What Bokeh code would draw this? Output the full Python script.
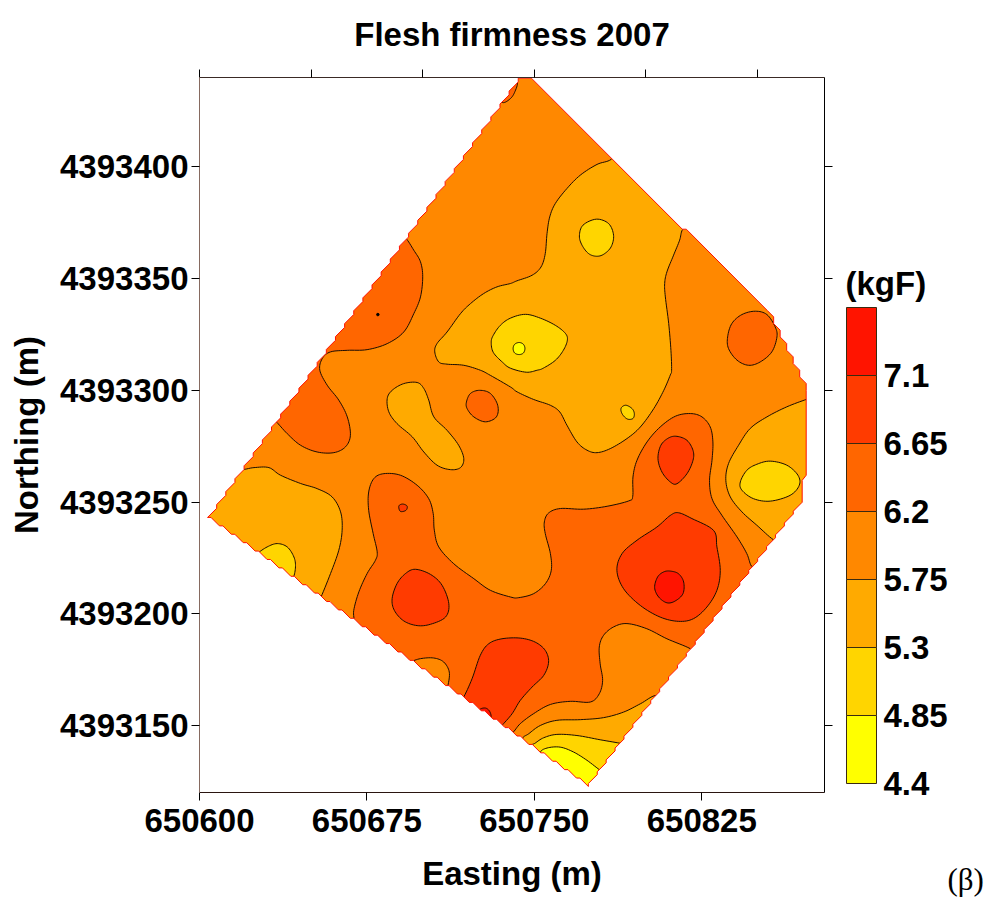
import numpy as np
from bokeh.plotting import figure
from bokeh.layouts import row
from bokeh.core.properties import value
from bokeh.models import LinearAxis, FixedTicker, NumeralTickFormatter, Title
from bokeh.embed import file_html
from bokeh.resources import INLINE

E_BASE = 650000
N_BASE = 4393000

FONT = "Liberation Sans"
TITLE = "Flesh firmness 2007"
X_LABEL = "Easting (m)"
Y_LABEL = "Northing (m)"
UNIT = "(kgF)"
PANEL = "(\u03b2)"
X_TICKS = [650600, 650675, 650750, 650825]
X_TOP_TICKS = [650600, 650650, 650700, 650750, 650800, 650850]
Y_TICKS = [4393150, 4393200, 4393250, 4393300, 4393350, 4393400]

LEVELS = [4.4, 4.85, 5.3, 5.75, 6.2, 6.65, 7.1, 7.55]
LEVEL_LABELS = ["4.4", "4.85", "5.3", "5.75", "6.2", "6.65", "7.1"]
YEL, GLD, AMB, ORG, DKO, RED, HOT = "#FFFF00", "#FFD500", "#FFAA00", "#FF8800", "#FF6600", "#FF3B00", "#FF1400"
BAND_COLORS = [YEL, GLD, AMB, ORG, DKO, RED, HOT]

# field boundary (easting-650000, northing-4393000) and stair steps of the blanking grid per edge
BOUND_E = [603.6, 742.8, 748.7, 816.3, 818.1, 854.3, 871.8, 871.8, 870.0, 870.0, 774.2]
BOUND_N = [243.1, 439.7, 439.7, 372.1, 372.1, 335.8, 300.0, 262.0, 259.7, 249.9, 122.7]
BOUND_STEPS = [34, 1, 1, 1, 1, 6, 1, 1, 1, 24, 32]

A1_E = [784.5,778.1,770.6,764.6,759.4,756.9,755.7,754.9,753.0,749.0,742.2,739.3,733.3,727.3,721.4,716.9,710.9,706.4,705.4,707.2,710.9,718.4,725.8,730.3,739.3,742.3,749.7,757.2,761.4,764.6,769.1,773.6,778.1,784.0,791.5,797.5,803.5,808.0,810.9,811.5,811.2,810.2,808.7,808.4,809.4,812.4,815.1,816.4,820.6,790.0]
A1_N = [403.4,401.1,396.3,390.3,383.6,377.6,370.2,361.2,355.2,351.5,349.0,347.8,346.3,343.3,338.8,334.3,326.1,320.9,317.2,312.7,311.7,311.2,309.0,306.7,301.5,299.3,295.9,293.3,290.3,284.4,276.9,273.2,272.1,273.9,278.4,283.6,291.8,300.0,306.8,309.0,317.9,329.9,341.8,347.8,353.0,360.5,367.2,372.0,377.6,409.7]
A2_E = [684.1,686.3,691.5,697.5,700.5,702.7,705.0,710.9,716.1,718.4,716.9,712.4,706.4,700.5,695.3,688.5,684.8]
A2_N = [296.3,300.0,303.0,303.5,300.8,295.6,288.1,282.1,275.4,269.4,265.4,264.5,266.5,272.4,279.2,285.1,290.4]
A3_E = [618.4,624.4,631.1,636.3,645.3,652.7,659.4,663.2,663.9,662.4,658.7,653.9,652.0,625.9,600.5,614.7]
A3_N = [264.5,265.4,265.4,262.0,258.3,256.0,252.3,245.6,237.4,228.4,218.0,206.3,203.8,221.0,242.6,266.5]
A4_E = [871.8,863.1,854.2,846.7,841.5,837.0,835.8,837.8,843.0,849.7,856.9,860.2,875.8,875.8]
A4_N = [295.9,292.6,288.1,282.9,275.4,267.2,259.7,252.3,245.6,239.6,233.3,232.9,259.7,297.1]
A5_E = [804.9,797.5,790.0,781.0,770.6,760.1,752.7,747.5,744.8,747.5,773.6,810.9]
A5_N = [163.5,159.7,156.0,153.5,152.6,152.3,150.0,146.3,144.1,139.6,119.5,159.7]
G1_E = [777.8,783.3,785.5,784.4,781.1,777.8,774.3,771.4,770.2,771.8]
G1_N = [376.6,374.6,369.4,364.2,360.9,360.0,361.2,364.9,369.1,373.9]
G2_E = [739.3,734.8,731.6,730.7,731.6,735.7,739.3,746.4,751.3,754.0,759.4,763.0,764.8,763.9,759.4,752.7,746.0]
G2_N = [332.3,329.1,324.6,321.5,317.0,312.6,309.9,308.1,309.0,309.9,313.4,317.9,322.4,325.5,329.1,332.3,334.0]
G3_E = [789.3,791.2,793.8,794.8,794.2,791.8,789.7,788.8]
G3_N = [292.6,293.3,291.8,289.6,287.4,287.1,288.9,291.1]
G4_E = [625.9,630.3,634.8,639.3,642.3,643.0,642.0,639.3,624.4]
G4_N = [226.9,229.9,231.4,229.9,225.4,221.0,216.2,213.5,224.7]
G5_E = [855.7,863.1,868.1,868.7,864.6,855.7,848.2,843.0,842.3,845.2,849.7]
G5_N = [268.3,266.5,262.0,257.5,253.0,250.4,251.5,255.3,259.0,264.2,266.9]
G6_E = [789.6,779.5,769.1,760.1,754.2,750.4,748.5,751.2,773.6,795.2]
G6_N = [141.8,143.6,145.5,146.0,144.5,142.1,140.6,135.9,119.5,140.3]
Y1_E = [743.2,745.1,745.8,745.1,743.2,741.2,740.5,741.2]
Y1_N = [321.4,320.6,318.7,316.7,316.0,316.7,318.7,320.6]
Y2_E = [780.0,773.6,767.6,761.6,755.7,752.7,754.9,773.6,784.8]
Y2_N = [129.6,134.4,138.1,140.3,139.9,137.8,132.9,119.5,126.9]
D1_E = [669.1,669.1,671.4,675.1,678.8,679.6,677.8,675.8,675.8,678.1,682.6,690.0,697.5,702.7,704.7,705.2,707.2,713.9,722.9,730.3,739.3,743.0,749.7,755.0,757.6,757.2,754.9,754.5,756.4,761.7,772.1,782.6,792.3,794.1,794.2,796.0,800.5,806.4,813.2,819.9,825.1,828.8,830.0,829.6,828.5,829.6,834.0,840.8,845.2,847.2,850.5,824.4,819.8,809.4,800.4,791.5,785.5,781.0,779.1,779.5,780.6,779.1,775.1,766.1,757.2,749.7,743.7,740.0,734.8,696.0,666.1]
D1_N = [196.3,201.5,209.8,218.0,223.9,227.7,235.9,246.3,254.5,260.5,262.7,262.0,257.5,251.5,244.8,237.4,229.9,222.4,215.7,210.5,207.5,207.2,209.0,213.5,219.5,226.9,235.9,241.1,245.1,247.1,246.8,248.1,250.5,252.6,261.2,268.7,276.9,283.6,288.4,289.6,288.1,283.6,276.9,268.7,259.7,251.5,244.1,234.4,226.9,221.4,218.0,180.6,184.4,188.8,193.3,195.6,194.1,190.3,185.1,177.6,170.2,164.2,160.5,160.8,159.4,155.3,150.8,146.6,144.8,171.7,194.1]
D2_E = [692.3,696.0,699.0,700.0,699.0,696.0,691.5,684.1,675.1,666.2,658.7,655.0,653.9,657.2,662.4,666.2,667.6,665.4,660.2,652.7,645.3,639.3,634.1,631.1,649.7,688.5]
D2_N = [368.2,362.7,357.5,350.8,341.8,334.3,326.1,320.9,318.2,317.9,317.2,314.2,309.0,302.3,295.6,288.1,279.9,274.7,272.1,272.4,275.4,280.6,286.2,288.1,313.5,370.2]
D3_E = [725.5,730.3,733.6,733.0,728.1,722.9,719.9,719.6,721.4]
D3_N = [300.0,298.6,293.3,288.1,285.9,288.1,291.8,294.8,298.6]
D4_E = [849.0,854.2,857.9,858.7,856.4,851.2,846.0,840.8,837.0,836.6,838.5,843.0]
D4_N = [335.4,333.9,328.4,323.9,317.2,312.7,311.2,313.5,318.7,323.9,329.9,333.9]
D5_E = [735.8,739.0,741.1,742.3,737.8,733.3]
D5_N = [428.8,430.3,433.2,438.1,440.3,432.1]
O1_E = [694.5,699.0,704.9,709.4,711.9,711.3,710.1,699.0,692.2]
O1_N = [178.4,179.9,180.2,178.4,173.9,167.9,165.0,170.9,176.9]
R1_E = [696.7,703.5,708.7,711.7,710.2,703.5,697.5,691.5,687.3,686.3,688.5,692.3]
R1_N = [219.9,217.6,212.7,204.5,198.5,195.3,194.7,196.8,201.5,206.8,213.5,218.0]
R2_E = [813.9,818.4,821.1,821.1,818.4,813.9,810.9,807.2,805.4,806.7,810.2]
R2_N = [279.4,277.6,273.1,268.7,262.7,258.2,259.0,263.4,269.4,275.4,278.7]
R3_E = [814.6,820.6,830.3,831.8,833.3,831.8,827.3,821.3,814.6,806.4,797.5,790.0,787.0,789.3,796.0,804.9,810.9]
R3_N = [245.2,242.6,237.3,229.9,219.4,210.5,203.0,197.8,196.6,198.5,203.7,211.2,219.4,226.9,232.9,238.8,244.0]
R4_E = [718.1,722.1,725.8,729.6,735.5,743.7,750.4,754.9,756.4,754.2,749.0,743.7,740.0,735.1,731.8,715.4]
R4_N = [162.3,170.9,181.4,186.6,188.8,189.1,187.3,183.6,178.4,172.4,167.2,161.2,155.2,149.6,146.3,159.7]
R5_E = [689.3,691.0,693.0,692.5,690.0]
R5_N = [248.2,249.1,248.2,246.3,245.8]
F1_E = [810.9,814.6,816.9,816.6,813.1,809.4,805.7,803.9,805.2,807.9]
F1_N = [219.1,217.9,214.2,209.0,205.7,204.9,207.5,211.7,216.4,218.7]
F2_E = [725.5,728.1,730.0,730.6,729.1,725.8]
F2_N = [157.0,157.8,156.3,153.7,151.5,153.7]
DOT_E = [679.9]
DOT_N = [333.9]

REGIONS = [
    (A1_E, A1_N, AMB), (A2_E, A2_N, AMB), (A3_E, A3_N, AMB), (A4_E, A4_N, AMB), (A5_E, A5_N, AMB),
    (G1_E, G1_N, GLD), (G2_E, G2_N, GLD), (G3_E, G3_N, GLD), (G4_E, G4_N, GLD), (G5_E, G5_N, GLD), (G6_E, G6_N, GLD),
    (Y1_E, Y1_N, YEL), (Y2_E, Y2_N, YEL),
    (D1_E, D1_N, DKO), (D2_E, D2_N, DKO), (D3_E, D3_N, DKO), (D4_E, D4_N, DKO), (D5_E, D5_N, DKO),
    (O1_E, O1_N, ORG),
    (R1_E, R1_N, RED), (R2_E, R2_N, RED), (R3_E, R3_N, RED), (R4_E, R4_N, RED), (R5_E, R5_N, RED),
    (F1_E, F1_N, HOT), (F2_E, F2_N, HOT),
]


def smooth(e, n, sub=8):
    """Closed Catmull-Rom curve through the traced contour vertices."""
    P = np.column_stack([np.asarray(e) + E_BASE, np.asarray(n) + N_BASE])
    out = []
    m = len(P)
    for i in range(m):
        p0, p1, p2, p3 = P[(i - 1) % m], P[i], P[(i + 1) % m], P[(i + 2) % m]
        for t in np.linspace(0, 1, sub, endpoint=False):
            out.append(0.5 * (2 * p1 + (p2 - p0) * t + (2 * p0 - 5 * p1 + 4 * p2 - p3) * t ** 2
                              + (3 * p1 - p0 - 3 * p2 + p3) * t ** 3))
    out = np.array(out)
    return out[:, 0], out[:, 1]


def stair_outline(e, n, steps):
    """Boundary vertices with the stair steps left by the blanking grid."""
    xs, ys = [], []
    m = len(e)
    for i in range(m):
        a = np.array([e[i] + E_BASE, n[i] + N_BASE], float)
        b = np.array([e[(i + 1) % m] + E_BASE, n[(i + 1) % m] + N_BASE], float)
        k = steps[i]
        d = (b - a) / k
        for j in range(k):
            q = a + d * j
            xs.append(q[0]); ys.append(q[1])
            if k > 1:
                s = min(abs(d[0]), abs(d[1]))
                xs.append(q[0] + np.sign(d[0]) * s); ys.append(q[1] + np.sign(d[1]) * s)
    return xs, ys


BORDER_TOP, FRAME_H, BORDER_BOTTOM = 77, 715, 106

p = figure(x_range=(650600, 650880), y_range=(4393120, 4393440),
           frame_width=625, frame_height=FRAME_H,
           min_border_left=199, min_border_right=14, min_border_top=BORDER_TOP, min_border_bottom=BORDER_BOTTOM,
           output_backend="svg", toolbar_location=None,
           x_axis_label=X_LABEL, y_axis_label=Y_LABEL)
p.background_fill_color = "white"
p.grid.visible = False
p.outline_line_color = None

bx, by = stair_outline(BOUND_E, BOUND_N, BOUND_STEPS)
p.patch(bx, by, fill_color=ORG, line_color=None)
for e, n, c in REGIONS:
    x, y = smooth(e, n)
    p.patch(x, y, fill_color=c, line_color="#1a0d00", line_width=1)
p.scatter(np.array(DOT_E) + E_BASE, np.array(DOT_N) + N_BASE, size=2.5, color="black")

# everything outside the field stays white
ox = [650590, 650890, 650890, 650590]
oy = [4393110, 4393110, 4393450, 4393450]
p.multi_polygons(xs=[[[ox, bx]]], ys=[[[oy, by]]], fill_color="white", line_color=None)
p.line(bx + bx[:1], by + by[:1], line_color="#FF1000", line_width=1)

for ax in (p.xaxis[0], p.yaxis[0]):
    ax.axis_label_text_font = FONT
    ax.axis_label_text_font_style = "bold"
    ax.axis_label_text_font_size = "33px"
    ax.axis_label_text_color = "black"
    ax.major_label_text_font = FONT
    ax.major_label_text_font_style = "bold"
    ax.major_label_text_font_size = "33px"
    ax.major_label_text_color = "black"
    ax.major_tick_in = 0
    ax.major_tick_out = 8
    ax.minor_tick_out = 0
    ax.minor_tick_in = 0
    ax.major_tick_line_color = "black"
    ax.formatter = NumeralTickFormatter(format="0")
p.xaxis[0].ticker = FixedTicker(ticks=X_TICKS)
p.yaxis[0].ticker = FixedTicker(ticks=Y_TICKS)
p.xaxis[0].major_label_standoff = 8
p.yaxis[0].major_label_standoff = 3
p.xaxis[0].axis_label_standoff = 20
p.yaxis[0].axis_label_standoff = 12
p.xaxis[0].axis_label_text_line_height = 0.9
p.yaxis[0].major_label_orientation = "horizontal"
p.yaxis[0].axis_line_color = "#866a60"
p.xaxis[0].axis_line_color = "#2a1510"

top = LinearAxis(ticker=FixedTicker(ticks=X_TOP_TICKS), major_label_overrides={t: "" for t in X_TOP_TICKS},
                 major_label_text_font_size="0px", major_label_standoff=0,
                 major_tick_in=0, major_tick_out=8, minor_tick_out=0, minor_tick_in=0,
                 axis_line_color="#3a2a25")
right = LinearAxis(ticker=FixedTicker(ticks=Y_TICKS), major_label_overrides={t: "" for t in Y_TICKS},
                   major_label_text_font_size="0px", major_label_standoff=0,
                   major_tick_in=0, major_tick_out=8, minor_tick_out=0, minor_tick_in=0,
                   axis_line_color="black")
p.add_layout(top, "above")
p.add_layout(right, "right")
p.add_layout(Title(text=TITLE, align="center", vertical_align="top", text_font=FONT, text_font_style="bold",
                   text_font_size="33px", text_color="black", standoff=30), "above")

# legend panel: frame starts with the map's and runs to the page bottom, so all its texts stay inside it
LEG_PX_PER_UNIT = 476 / (LEVELS[-1] - LEVELS[0])
LEG_TOP = LEVELS[-1] + 230 / LEG_PX_PER_UNIT
LEG_BOTTOM = LEVELS[0] - 115 / LEG_PX_PER_UNIT
BAR_W, LEG_W = 30, 145

cb = figure(x_range=(-1 / BAR_W, (LEG_W - 1) / BAR_W), y_range=(LEG_BOTTOM, LEG_TOP),
            frame_width=LEG_W, frame_height=FRAME_H + BORDER_BOTTOM,
            min_border_left=7, min_border_right=0, min_border_top=BORDER_TOP, min_border_bottom=0,
            x_axis_location=None, y_axis_location=None,
            output_backend="svg", toolbar_location=None)
cb.grid.visible = False
cb.outline_line_color = None
cb.quad(left=0, right=1, bottom=LEVELS[:-1], top=LEVELS[1:], fill_color=BAND_COLORS,
        line_color="#3a2a10", line_width=1)
cb.text(x=[1] * len(LEVEL_LABELS), y=LEVELS[:-1], text=LEVEL_LABELS, x_offset=7,
        text_font=value(FONT), text_font_style="bold", text_font_size="33px", text_color="black",
        text_baseline="middle", text_align="left")
cb.text(x=[0], y=[LEVELS[-1]], text=[UNIT], x_offset=-1, y_offset=-6,
        text_font=value(FONT), text_font_style="bold", text_font_size="33px", text_color="black",
        text_baseline="bottom", text_align="left")
cb.text(x=[1], y=[LEVELS[0]], text=[PANEL], x_offset=71, y_offset=96,
        text_font=value("Liberation Serif"), text_font_size="31px", text_color="black",
        text_baseline="alphabetic", text_align="left")

layout = row(p, cb)
open("out.html", "w").write(file_html(layout, INLINE))
